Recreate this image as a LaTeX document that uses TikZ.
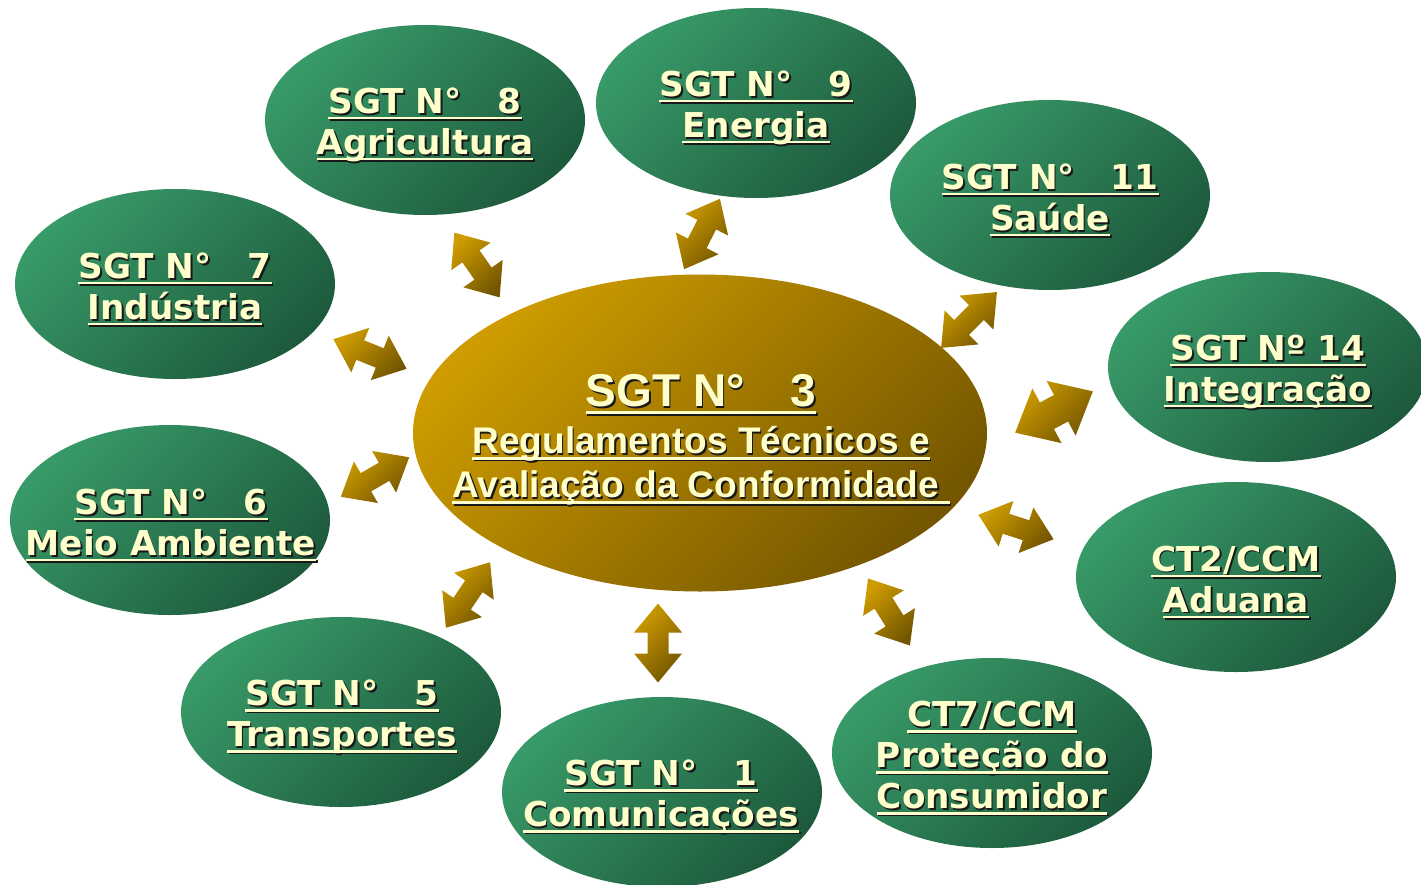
\documentclass[tikz,border=0pt]{standalone}
\usepackage{fontspec}
\newfontfamily\vfont{DejaVu Sans}
\newfontfamily\afont{Liberation Sans}
\usetikzlibrary{shapes.geometric}
\definecolor{txt}{HTML}{FFFFCC}
\definecolor{gLight}{HTML}{389A68}
\definecolor{gDark}{HTML}{1D5A3C}
\definecolor{oLight}{HTML}{CE9C00}
\definecolor{oDark}{HTML}{745600}
\newcommand\ulx[1]{\setbox0\hbox{#1}\rlap{\rule[-0.17em]{\wd0}{0.075em}}\box0}
\newcommand\dblarr[7]{%
  \begin{scope}[shift={(#1,#2)},rotate=#3]
    \shade[arr] (-#4,0) -- (-#4+#5,#6) -- (-#4+#5,#7) -- (#4-#5,#7) -- (#4-#5,#6) -- (#4,0)
      -- (#4-#5,-#6) -- (#4-#5,-#7) -- (-#4+#5,-#7) -- (-#4+#5,-#6) -- cycle;
  \end{scope}}
\newcommand\shlabel[5]{%
  \node[lbl,#4,text=black!90] (#1-sh) at (#2+1.6,#3+1.6) {#5};
  \node[lbl,#4] (#1) at (#2,#3) {#5};}
\tikzset{
  grp/.style={ellipse, minimum width=240pt, minimum height=142.5pt, inner sep=0pt,
    top color=gLight, bottom color=gDark, shading angle=45},
  hub/.style={ellipse, minimum width=430.5pt, minimum height=237.75pt, inner sep=0pt,
    top color=oLight, bottom color=oDark, shading angle=45},
  arr/.style={top color=oLight, bottom color=oDark, shading angle=45},
  lbl/.style={align=center, inner sep=0pt, text=txt},
  gtext/.style={font=\vfont\bfseries\fontsize{25.7}{30.75}\selectfont},
  htext/.style={font=\afont\bfseries\fontsize{27.8}{32.25}\selectfont},
}
\begin{document}
\begin{tikzpicture}[x=0.75pt,y=-0.75pt]
\useasboundingbox (0,0) rectangle (1421,885);
% ellipses
\node[hub] (c) at (700,433) {};
\node[grp] (e8) at (425,120) {};
\node[grp] (e9) at (756,103) {};
\node[grp] (e11) at (1050,195) {};
\node[grp] (e14) at (1268,367) {};
\node[grp] (ct2) at (1236,577) {};
\node[grp] (ct7) at (992,753) {};
\node[grp] (e1) at (662,792) {};
\node[grp] (e5) at (341,712) {};
\node[grp] (e6) at (170,520) {};
\node[grp] (e7) at (175,284) {};
% arrows
\dblarr{477}{265}{-55}{39.5}{29}{24}{10.5}
\dblarr{702}{234}{63}{39.5}{29}{24}{10.5}
\dblarr{969}{320}{45}{39.5}{29}{24}{10.5}
\dblarr{1054}{412}{28}{44}{36}{31}{15}
\dblarr{1016}{527}{-18}{39.5}{29}{24}{10.5}
\dblarr{889}{612}{-58}{39.5}{29}{24}{10.5}
\dblarr{658}{643}{90}{39.5}{29}{24}{10.5}
\dblarr{468}{595}{56}{39.5}{29}{24}{10.5}
\dblarr{375}{477}{30}{39.5}{29}{24}{10.5}
\dblarr{370}{354}{-22}{39.5}{29}{24}{10.5}
% labels
\shlabel{tc}{701}{440}{htext}{{\fontsize{34.5}{40}\selectfont\ulx{SGT N°\hspace{1.0em}3}}\\[3pt]\ulx{Regulamentos Técnicos e}\\[1pt]\ulx{Avaliação da Conformidade\ }}
\shlabel{t8}{425}{125}{gtext}{\ulx{SGT N°\hspace{1.05em}8}\\\ulx{Agricultura}}
\shlabel{t9}{756}{108}{gtext}{\ulx{SGT N°\hspace{1.05em}9}\\\ulx{Energia}}
\shlabel{t11}{1050}{200}{gtext}{\ulx{SGT N°\hspace{1.05em}11}\\\ulx{Saúde}}
\shlabel{t14}{1268}{372}{gtext}{\ulx{SGT Nº 14}\\\ulx{Integração}}
\shlabel{tct2}{1236}{582}{gtext}{\ulx{CT2/CCM}\\\ulx{Aduana}}
\shlabel{tct7}{992}{758}{gtext}{\ulx{CT7/CCM}\\\ulx{Proteção do}\\\ulx{Consumidor}}
\shlabel{t1}{661}{797}{gtext}{\ulx{SGT N°\hspace{1.05em}1}\\\ulx{Comunicações}}
\shlabel{t5}{342}{717}{gtext}{\ulx{SGT N°\hspace{1.05em}5}\\\ulx{Transportes}}
\shlabel{t6}{171}{525}{gtext}{\ulx{SGT N°\hspace{1.05em}6}\\\ulx{Meio Ambiente}}
\shlabel{t7}{175}{289}{gtext}{\ulx{SGT N°\hspace{1.05em}7}\\\ulx{Indústria}}
\end{tikzpicture}
\end{document}
